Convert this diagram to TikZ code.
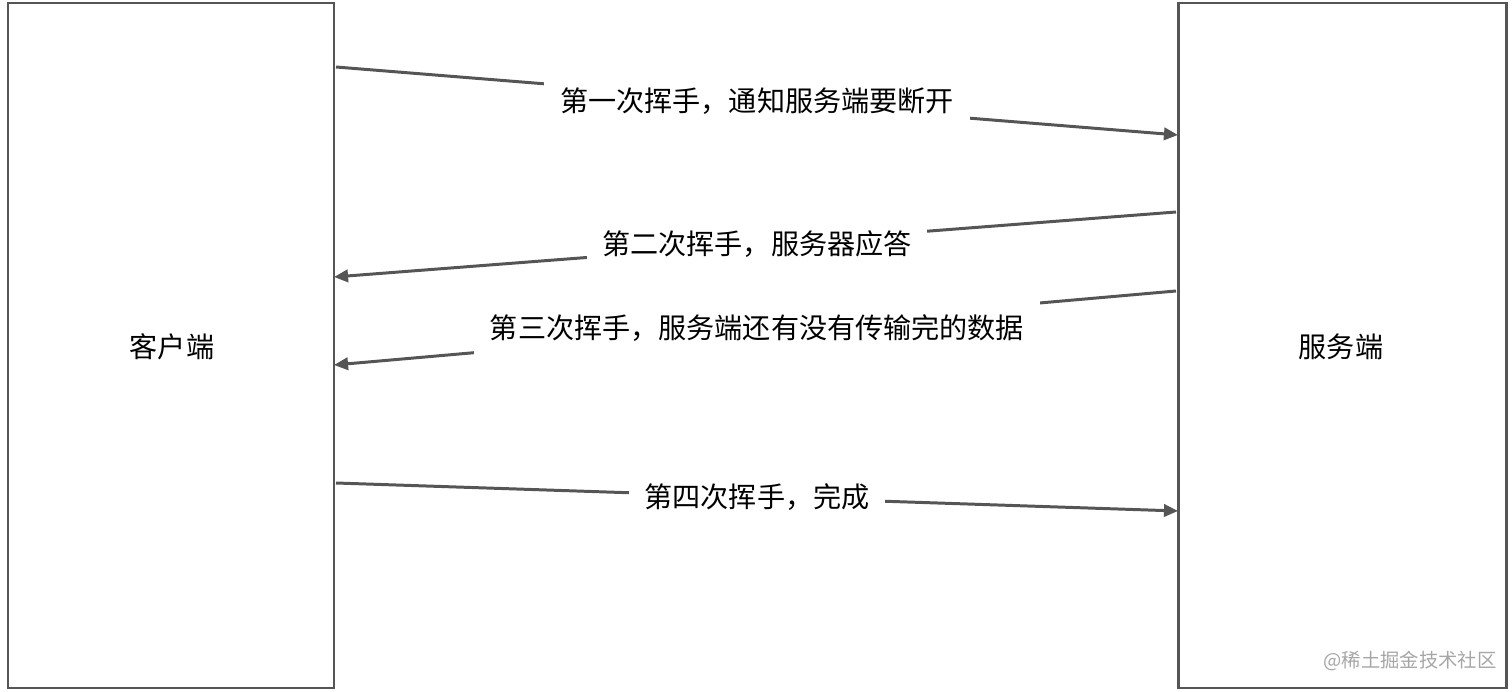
\documentclass[tikz,border=0pt]{standalone}
\usepackage{fontspec}
\setmainfont{Noto Sans CJK SC}
\usetikzlibrary{arrows.meta}
\definecolor{ln}{HTML}{555555}
\begin{document}
\begin{tikzpicture}[x=0.02cm,y=-0.02cm,
  box/.style={draw=ln,line width=1.7pt},
  msg/.style={draw=ln,line width=1.7pt,-{Triangle[length=8pt,width=7pt]}},
  lbl/.style={fill=white,inner xsep=9pt,inner ysep=10pt,font=\fontsize{16}{19}\selectfont,text=black}]
\useasboundingbox (0,0) rectangle (1512,692);
\draw[box] (8,3) rectangle (334,688);
\draw[box] (1178,3) rectangle (1506,688);
\node[font=\fontsize{16}{19}\selectfont] (c) at (172,347) {客户端};
\node[font=\fontsize{16}{19}\selectfont] (s) at (1341,347) {服务端};
\coordinate (a1) at (336,67); \coordinate (b1) at (1178,135);
\coordinate (a2) at (1176,212); \coordinate (b2) at (334,277);
\coordinate (a3) at (1176,291); \coordinate (b3) at (334,365);
\coordinate (a4) at (336,483); \coordinate (b4) at (1178,511);
\draw[msg] (a1) -- (b1);
\draw[msg] (a2) -- (b2);
\draw[msg] (a3) -- (b3);
\draw[msg] (a4) -- (b4);
\node[lbl] (l1) at (757,101) {第一次挥手，通知服务端要断开};
\node[lbl] (l2) at (757,244) {第二次挥手，服务器应答};
\node[lbl] (l3) at (757,328) {第三次挥手，服务端还有没有传输完的数据};
\node[lbl] (l4) at (757,497) {第四次挥手，完成};
\node[text=gray!70,font=\fontsize{11}{13}\selectfont] (w) at (1410,661) {@稀土掘金技术社区};
\end{tikzpicture}
\end{document}
